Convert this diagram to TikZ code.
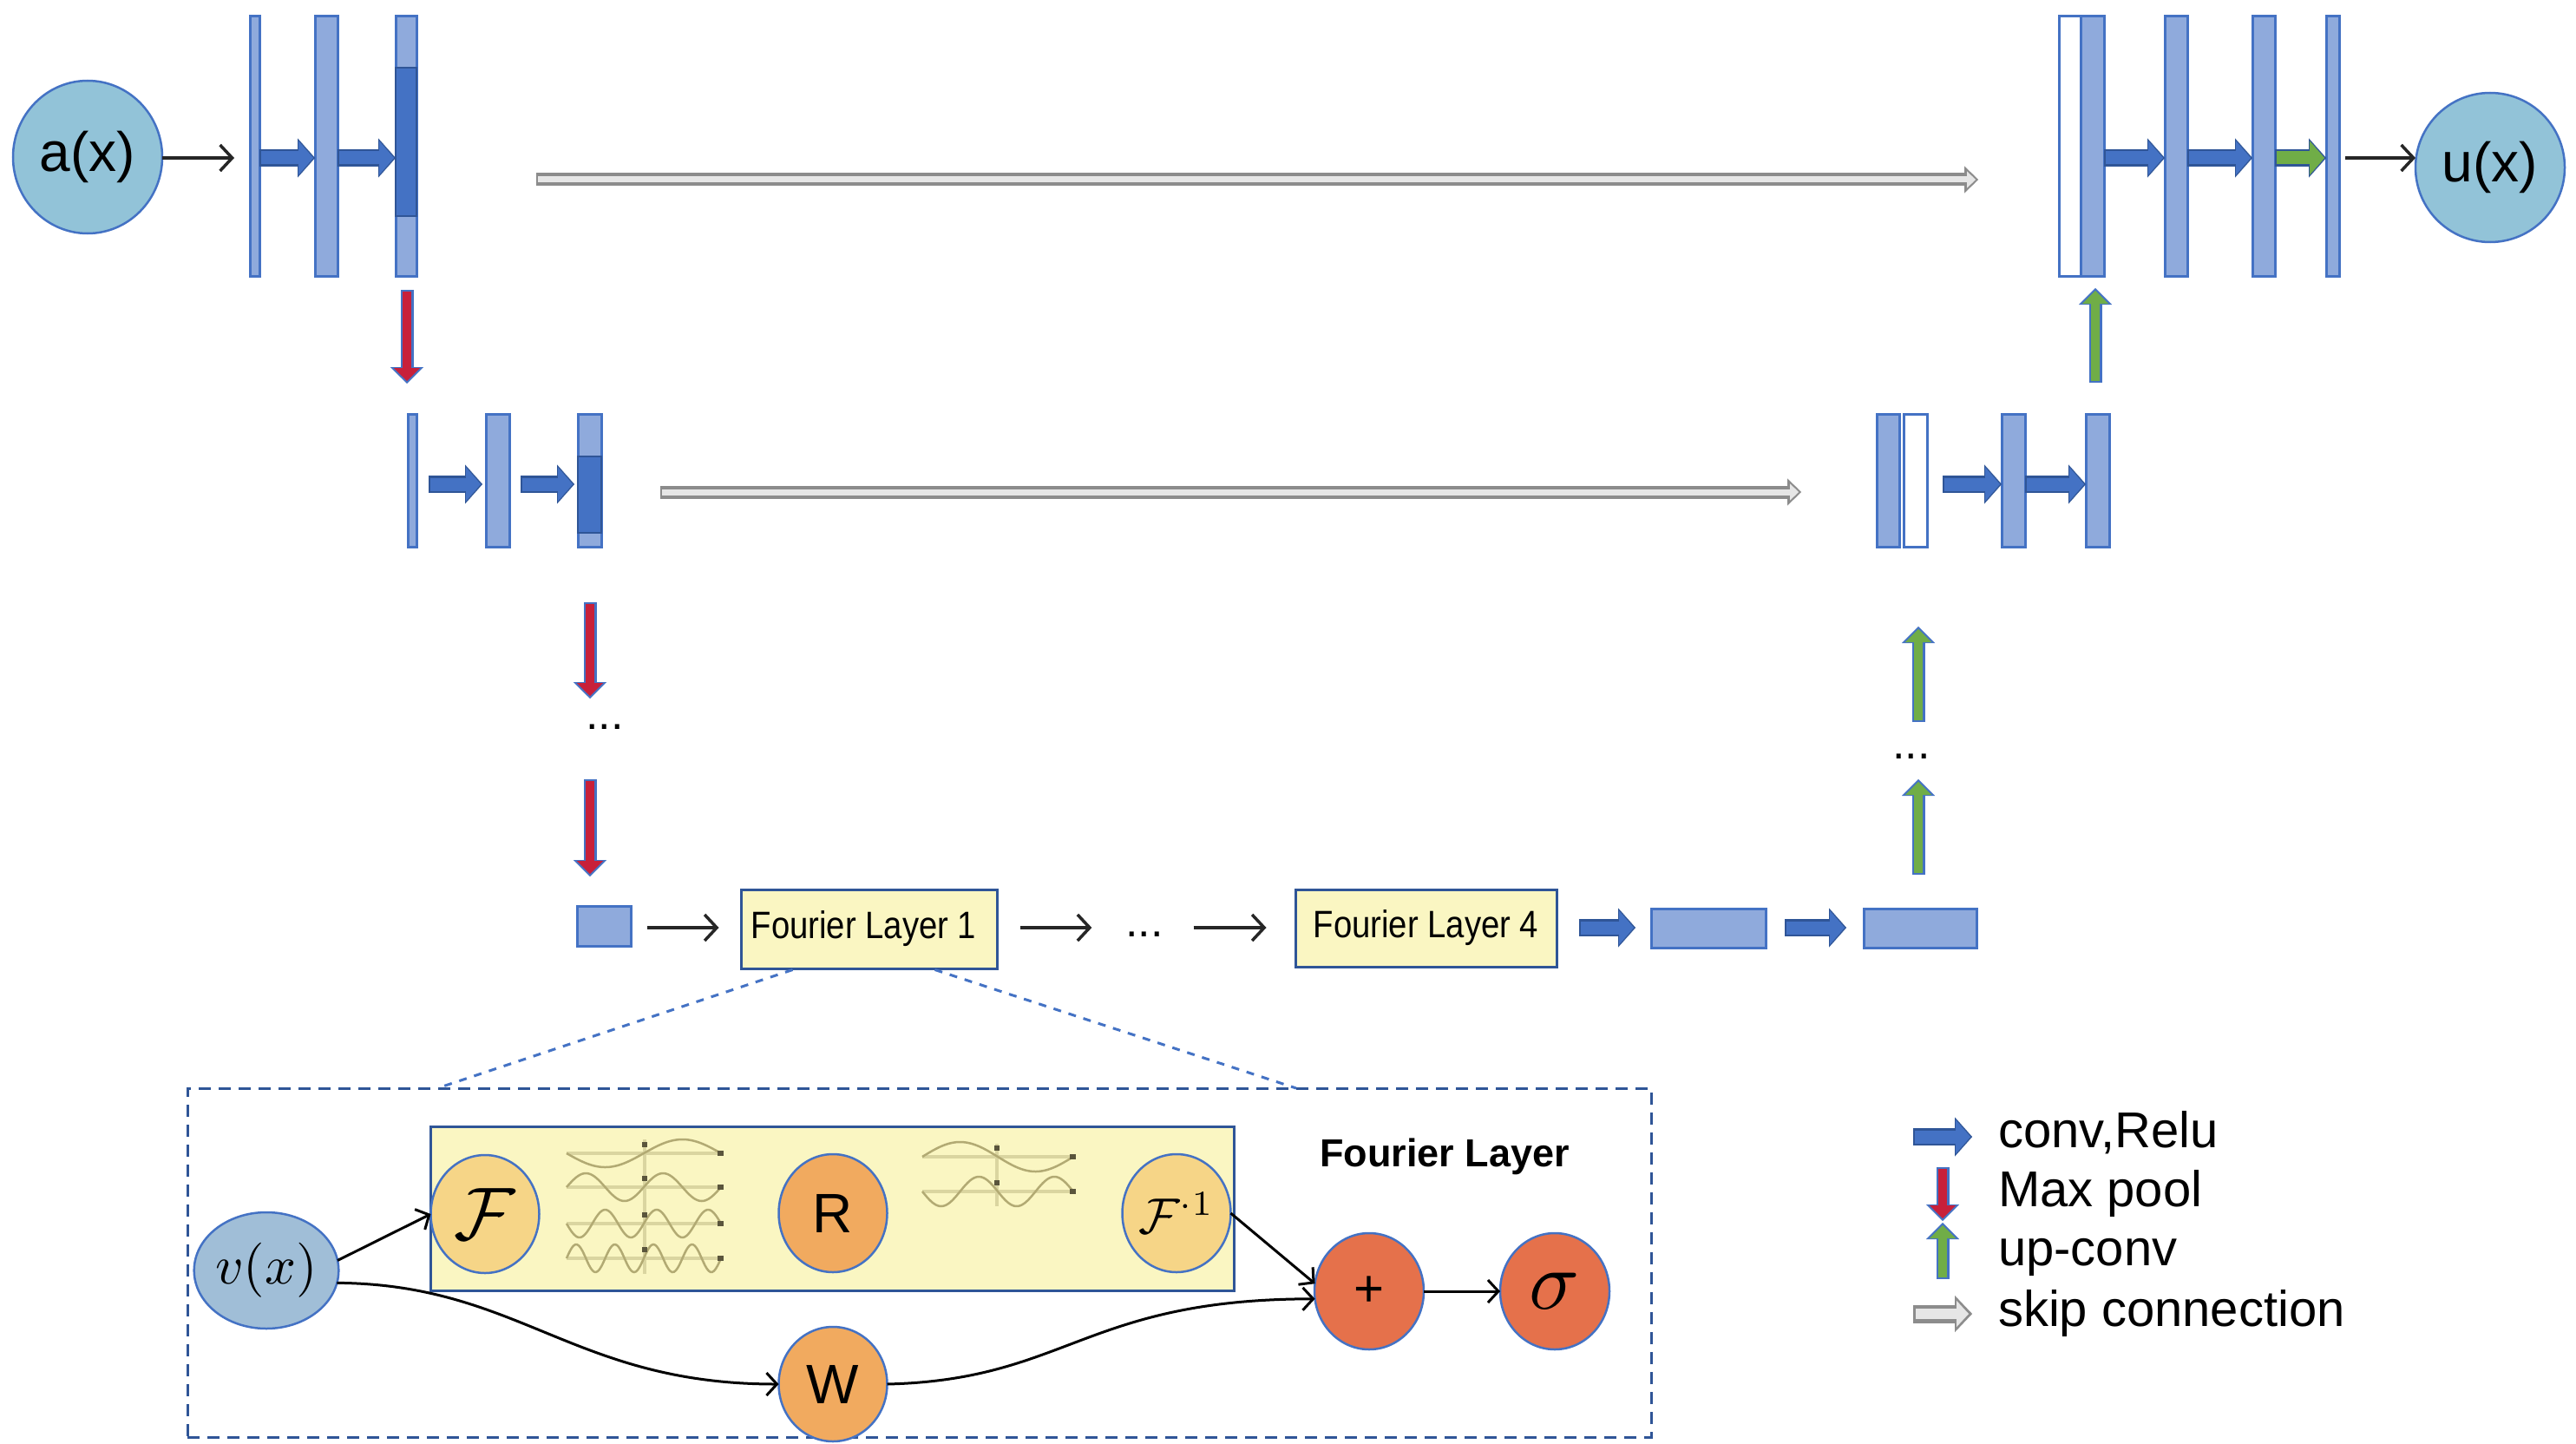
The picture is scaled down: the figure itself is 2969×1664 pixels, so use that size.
\documentclass[tikz,border=0pt]{standalone}
\usepackage{fontspec}
\setmainfont{Liberation Sans}
\usetikzlibrary{arrows.meta,calc,shapes.geometric}
\newcommand\myfs[1]{\fontsize{#1}{#1}\selectfont}
\definecolor{barfill}{RGB}{143,170,220}
\definecolor{barline}{RGB}{68,114,196}
\definecolor{convblue}{RGB}{68,114,196}
\definecolor{convline}{RGB}{47,85,151}
\definecolor{poolred}{RGB}{200,32,58}
\definecolor{upgreen}{RGB}{112,173,71}
\definecolor{skipgray}{RGB}{140,140,140}
\definecolor{skipfill}{RGB}{230,230,230}
\definecolor{inblue}{RGB}{146,195,216}
\definecolor{vblue}{RGB}{160,190,215}
\definecolor{flfill}{RGB}{250,246,194}
\definecolor{flline}{RGB}{47,85,151}
\definecolor{fcirc}{RGB}{246,213,135}
\definecolor{rcirc}{RGB}{241,170,95}
\definecolor{pcirc}{RGB}{229,113,75}
\definecolor{wavec}{RGB}{178,170,115}
\definecolor{waxisc}{RGB}{218,213,160}
\definecolor{wdot}{RGB}{90,85,60}
\begin{document}
\begin{tikzpicture}[x=1pt,y=-1pt,
  bar/.style={rectangle,draw=barline,fill=barfill,line width=3pt,inner sep=0pt,outer sep=0pt},
  wbar/.style={bar,fill=white},
  dkbar/.style={rectangle,draw=convline,fill=convblue,line width=2.5pt,inner sep=0pt,outer sep=0pt},
  blob/.style={ellipse,draw=barline,line width=2.5pt,inner sep=0pt,outer sep=0pt},
  txt/.style={inner sep=0pt,outer sep=0pt},
  conv/.style={draw=convblue,line width=15pt,shorten >=2pt,shorten <=2pt,
    -{Triangle[length=17pt,width=39pt,line width=0.1pt]},
    preaction={draw=convline,line width=20pt,shorten >=0pt,shorten <=0pt,
      -{Triangle[length=20pt,width=45pt,line width=0.1pt]}}},
  gconv/.style={draw=upgreen,line width=15pt,shorten >=2pt,shorten <=2pt,
    -{Triangle[length=17pt,width=39pt,line width=0.1pt]},
    preaction={draw=convline,line width=20pt,shorten >=0pt,shorten <=0pt,
      -{Triangle[length=20pt,width=45pt,line width=0.1pt]}}},
  pool/.style={draw=poolred,line width=10pt,shorten >=3pt,shorten <=2pt,
    -{Triangle[length=15pt,width=30pt,line width=0.1pt]},
    preaction={draw=barline,line width=15pt,shorten >=0pt,shorten <=0pt,
      -{Triangle[length=19pt,width=38pt,line width=0.1pt]}}},
  upc/.style={draw=upgreen,line width=10pt,shorten >=3pt,shorten <=2pt,
    -{Triangle[length=15pt,width=30pt,line width=0.1pt]},
    preaction={draw=barline,line width=15pt,shorten >=0pt,shorten <=0pt,
      -{Triangle[length=19pt,width=38pt,line width=0.1pt]}}},
  skip/.style={draw=skipfill,line width=7pt,shorten >=3pt,shorten <=2pt,
    -{Triangle[length=10pt,width=19pt,line width=0.1pt]},
    preaction={draw=skipgray,line width=15pt,shorten >=0pt,shorten <=0pt,
      -{Triangle[length=16pt,width=31pt,line width=0.1pt]}}},
  skipL/.style={draw=skipfill,line width=12pt,shorten >=4pt,shorten <=3pt,
    -{Triangle[length=14pt,width=30pt,line width=0.1pt]},
    preaction={draw=skipgray,line width=21pt,shorten >=0pt,shorten <=0pt,
      -{Triangle[length=20pt,width=42pt,line width=0.1pt]}}},
  thin/.style={draw=black!85,line width=3.5pt,-{Straight Barb[length=14pt,width=30pt]}},
  farrow/.style={draw=black,line width=3pt,-{Straight Barb[length=12pt,width=26pt]}},
  dbox/.style={rectangle,draw=flline,line width=3pt,dash pattern=on 14pt off 9pt,inner sep=0pt},
  dline/.style={draw=convblue,line width=3pt,dash pattern=on 9pt off 9pt},
  flbox/.style={rectangle,draw=flline,fill=flfill,line width=3pt,inner sep=0pt,font=\myfs{44}},
  wave/.style={draw=wavec,line width=2.5pt},
  waxis/.style={draw=waxisc,line width=4.5pt}
]
\fill[white] (0,0) rectangle (2969,1664);
\useasboundingbox (0,0) rectangle (2969,1664);
\coordinate (toprow) at (0,182);
\coordinate (midrow) at (0,558);
\coordinate (botrow) at (0,1069);

% ---------------- top row ----------------
\node[blob,fill=inblue,minimum width=172pt,minimum height=176pt,font=\myfs{64}] (ax) at (101,181) {a(x)};
\node[bar,minimum width=11pt,minimum height=299pt] (t1) at (293.5,168.5) {};
\node[bar,minimum width=26pt,minimum height=299pt] (t2) at (376,168.5) {};
\node[bar,minimum width=24pt,minimum height=299pt] (t3) at (468,168.5) {};
\node[dkbar,minimum width=24pt,minimum height=171pt] (t3d) at (468,163.5) {};

\node[wbar,minimum width=25pt,minimum height=299pt] (tw) at (2385.5,168.5) {};
\node[bar,minimum width=27pt,minimum height=299pt] (t4) at (2411.5,168.5) {};
\node[bar,minimum width=26pt,minimum height=299pt] (t5) at (2508,168.5) {};
\node[bar,minimum width=26pt,minimum height=299pt] (t6) at (2609,168.5) {};
\node[bar,minimum width=15pt,minimum height=299pt] (t7) at (2688.5,168.5) {};
\node[blob,fill=inblue,minimum width=172pt,minimum height=172pt,font=\myfs{64}] (ux) at (2870,193) {u(x)};

\draw[thin,shorten >=18pt] (ax.east |- toprow) -- (t1.west |- toprow);
\draw[conv] (t1.east |- toprow) -- (t2.west |- toprow);
\draw[conv] (t2.east |- toprow) -- (t3.west |- toprow);
\draw[conv] (t4.east |- toprow) -- (t5.west |- toprow);
\draw[conv] (t5.east |- toprow) -- (t6.west |- toprow);
\draw[gconv] (t6.east |- toprow) -- (t7.west |- toprow);
\draw[thin,shorten <=7pt] (t7.east |- toprow) -- (ux.west |- toprow);

\coordinate (s1a) at (618,207);
\coordinate (s1b) at (2280,207);
\draw[skip] (s1a) -- (s1b);

% ---------------- middle row ----------------
\node[bar,minimum width=10pt,minimum height=153pt] (m1) at (475,553.5) {};
\node[bar,minimum width=27pt,minimum height=153pt] (m2) at (573.5,553.5) {};
\node[bar,minimum width=27pt,minimum height=153pt] (m3) at (679.5,553.5) {};
\node[dkbar,minimum width=27pt,minimum height=88pt] (m3d) at (679.5,570) {};

\node[bar,minimum width=26pt,minimum height=153pt] (m4) at (2176,553.5) {};
\node[wbar,minimum width=27pt,minimum height=153pt] (mw) at (2207.5,553.5) {};
\node[bar,minimum width=27pt,minimum height=153pt] (m5) at (2320.5,553.5) {};
\node[bar,minimum width=27pt,minimum height=153pt] (m6) at (2417.5,553.5) {};

\draw[conv] ($(m1.east |- midrow)+(14,0)$) -- ($(m2.west |- midrow)+(-4,0)$);
\draw[conv] ($(m2.east |- midrow)+(13,0)$) -- ($(m3.west |- midrow)+(-4,0)$);
\draw[conv] ($(mw.east |- midrow)+(18,0)$) -- (m5.west |- midrow);
\draw[conv] (m5.east |- midrow) -- (m6.west |- midrow);

\coordinate (s2a) at (761,567);
\coordinate (s2b) at (2076,567);
\draw[skip] (s2a) -- (s2b);

% vertical arrows
\coordinate (r1a) at (469,334); \coordinate (r1b) at (469,442);
\draw[pool] (r1a) -- (r1b);
\coordinate (g1a) at (2415,441); \coordinate (g1b) at (2415,332);
\draw[upc] (g1a) -- (g1b);
\coordinate (r2a) at (680,694); \coordinate (r2b) at (680,805);
\draw[pool] (r2a) -- (r2b);
\node[txt,font=\myfs{52}] (d1) at (697,838) {...};
\coordinate (r3a) at (680,898); \coordinate (r3b) at (680,1010);
\draw[pool] (r3a) -- (r3b);
\coordinate (g2a) at (2211,832); \coordinate (g2b) at (2211,722);
\draw[upc] (g2a) -- (g2b);
\node[txt,font=\myfs{52}] (d3) at (2203,872) {...};
\coordinate (g3a) at (2211,1008); \coordinate (g3b) at (2211,898);
\draw[upc] (g3a) -- (g3b);

% ---------------- bottom row ----------------
\node[bar,minimum width=62pt,minimum height=46pt] (bsq) at (696,1067) {};
\node[flbox,minimum width=295pt,minimum height=91pt] (fl1) at (1001.5,1070.5) {\hspace*{-12pt}\scalebox{0.87}[1]{Fourier Layer 1}};
\node[txt,font=\myfs{52}] (d2) at (1319,1077) {...};
\node[flbox,minimum width=301pt,minimum height=89pt] (fl4) at (1643.5,1069.5) {\raisebox{9pt}{\scalebox{0.87}[1]{Fourier Layer 4}}};
\node[bar,minimum width=132pt,minimum height=45pt] (br1) at (1969,1069.5) {};
\node[bar,minimum width=130pt,minimum height=45pt] (br2) at (2213,1069.5) {};

\draw[thin] ($(bsq.east |- botrow)+(19,0)$) -- ($(fl1.west |- botrow)+(-24,0)$);
\draw[thin] ($(fl1.east |- botrow)+(25,0)$) -- ($(d2.west |- botrow)+(-39,0)$);
\draw[thin] ($(d2.east |- botrow)+(35,0)$) -- ($(fl4.west |- botrow)+(-32,0)$);
\draw[conv] ($(fl4.east |- botrow)+(24,0)$) -- ($(br1.west |- botrow)+(-18,0)$);
\draw[conv] ($(br1.east |- botrow)+(22,0)$) -- ($(br2.west |- botrow)+(-20,0)$);

% ---------------- zoomed Fourier layer ----------------
\node[dbox,minimum width=1687pt,minimum height=402pt] (zbox) at (1059.5,1455) {};
\coordinate (z1) at (504,1254);
\coordinate (z2) at (1494,1254);
\draw[dline] ([xshift=-88pt]fl1.south) -- (z1);
\draw[dline] ([xshift=76pt]fl1.south) -- (z2);

\node[rectangle,draw=flline,fill=flfill,line width=3pt,inner sep=0pt,minimum width=926pt,minimum height=189pt] (spec) at (959,1392.5) {};

% waves, group 1
\draw[waxis] (743,1313) -- (743,1468);
\foreach \ay/\n/\s in {1329/1/1,1368/2/-1,1410/3/1,1450/4/-1}{
  \draw[waxis] (653,\ay) -- (831,\ay);
  \draw[wave] plot[domain=0:1,samples=90,smooth] ({653+178*\x},{\ay+\s*16*sin(\n*360*\x)});
  \fill[wdot] (827,\ay-3) rectangle (834,\ay+3);
  \fill[wdot] (740,\ay-13) rectangle (746,\ay-7);
}
% waves, group 2
\draw[waxis] (1149,1318) -- (1149,1390);
\foreach \ay/\n/\s in {1333/1/-1,1373/2/1}{
  \draw[waxis] (1063,\ay) -- (1237,\ay);
  \draw[wave] plot[domain=0:1,samples=90,smooth] ({1063+174*\x},{\ay+\s*17*sin(\n*360*\x)});
  \fill[wdot] (1233,\ay-3) rectangle (1240,\ay+3);
  \fill[wdot] (1146,\ay-13) rectangle (1152,\ay-7);
}

\node[blob,fill=vblue,minimum width=126pt,minimum height=134pt,font=\myfs{10}] (vx) at (307,1464) {\scalebox{6.3}{$v(x)$}};
\node[blob,fill=fcirc,minimum width=125pt,minimum height=136pt,font=\myfs{10}] (Fc) at (559,1399) {\scalebox{8.6}{$\mathcal{F}$}};
\node[blob,fill=rcirc,minimum width=125pt,minimum height=136pt,font=\myfs{64}] (Rc) at (960,1398) {R};
\node[blob,fill=fcirc,minimum width=125pt,minimum height=136pt,font=\myfs{10}] (Fi) at (1356,1398) {\scalebox{5.8}{$\mathcal{F}^{\cdot 1}$}};
\node[blob,fill=pcirc,minimum width=126pt,minimum height=134pt,font=\myfs{60}] (plus) at (1578,1488) {+};
\node[blob,fill=pcirc,minimum width=126pt,minimum height=134pt,font=\myfs{10}] (sig) at (1792,1488) {\scalebox{9.6}{$\sigma$}};
\node[blob,fill=rcirc,minimum width=125pt,minimum height=132pt,font=\myfs{64}] (Wc) at (960,1595) {W};
\node[txt,font=\myfs{45}\bfseries] (fltitle) at (1665,1333) {Fourier Layer};

\draw[farrow] (vx.8) -- (Fc.west);
\draw[farrow] (vx.-10) .. controls (600,1480) and (660,1595) .. (Wc.west);
\draw[farrow] (Wc.east) .. controls (1230,1590) and (1250,1497) .. (plus.188);
\draw[farrow] (Fi.east) -- (plus.172);
\draw[farrow] (plus.east) -- (sig.west);

% ---------------- legend ----------------
\coordinate (l1a) at (2205,1310); \coordinate (l1b) at (2273,1310);
\draw[conv] (l1a) -- (l1b);
\node[txt,anchor=base west,font=\myfs{58}] (lt1) at (2303,1322) {conv,Relu};
\coordinate (l2a) at (2239,1345); \coordinate (l2b) at (2239,1407);
\draw[pool] (l2a) -- (l2b);
\node[txt,anchor=base west,font=\myfs{58}] (lt2) at (2303,1390) {Max pool};
\coordinate (l3a) at (2239,1474); \coordinate (l3b) at (2239,1409);
\draw[upc] (l3a) -- (l3b);
\node[txt,anchor=base west,font=\myfs{58}] (lt3) at (2303,1458) {up-conv};
\coordinate (l4a) at (2205,1514); \coordinate (l4b) at (2273,1514);
\draw[skipL] (l4a) -- (l4b);
\node[txt,anchor=base west,font=\myfs{58}] (lt4) at (2303,1528) {skip connection};
\end{tikzpicture}
\end{document}
